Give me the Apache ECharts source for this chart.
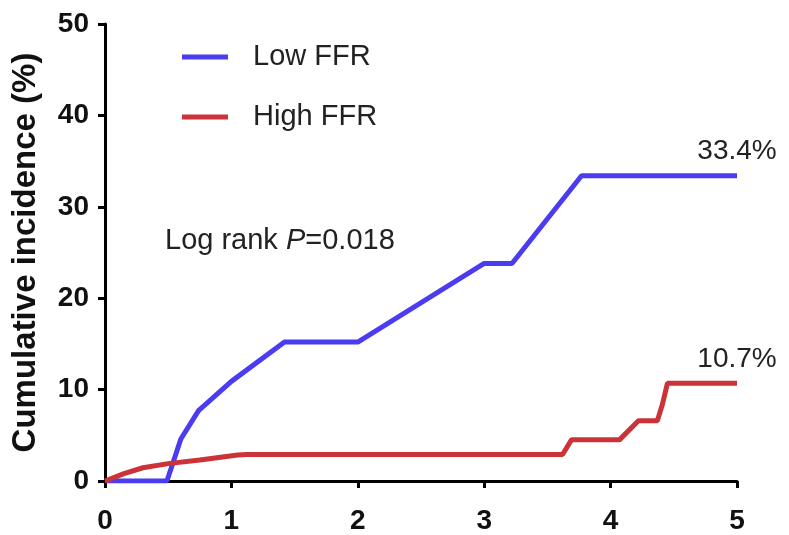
<!DOCTYPE html>
<html>
<head>
	<meta charset="UTF-8">
	<title>Cumulative incidence</title>
	<script src="https://cdn.jsdelivr.net/npm/echarts@6/dist/echarts.min.js"></script>
	<style>
		html, body { margin: 0; padding: 0; background: #fff; }
		#chart { width: 789px; height: 535px; }
	</style>
</head>
<body>
<div id="chart"></div>
<script type="text/javascript">
	// 数据 (years, %)
	var lowTime = [0, 0.49, 0.6, 0.74, 1.0, 1.42, 2.0, 3.0, 3.22, 3.77, 5];
	var lowInc = [0, 0, 4.6, 7.7, 10.9, 15.2, 15.2, 23.8, 23.8, 33.4, 33.4];
	var highTime = [0, 0.15, 0.3, 0.5, 0.75, 1.05, 1.12, 3.62, 3.69, 4.07, 4.22, 4.37, 4.41, 4.45, 5];
	var highInc = [0, 0.8, 1.45, 1.9, 2.3, 2.85, 2.9, 2.9, 4.5, 4.5, 6.6, 6.6, 8.4, 10.7, 10.7];
	var xTicks = [0, 1, 2, 3, 4, 5];
	var yTicks = [0, 10, 20, 30, 40, 50];
	var seriesNames = ['Low FFR', 'High FFR'];
	var endLabels = ['33.4%', '10.7%'];

	var font = "'Liberation Sans', Arial, sans-serif";

	function pairs(xs, ys, label) {
		var out = [];
		for (var i = 0; i < xs.length; i++) {
			out.push([xs[i], ys[i]]);
		}
		// 最后一个点显示百分比
		out[out.length - 1] = {
			value: out[out.length - 1],
			label: {
				show: true, position: 'top', distance: 10,
				formatter: label,
				color: '#222', fontSize: 28, fontFamily: font
			}
		};
		return out;
	}

	var myChart = echarts.init(document.getElementById('chart'));

	var option = {
		animation: false,
		grid: { left: 105, right: 52, top: 24, bottom: 54 },
		legend: {
			orient: 'vertical',
			left: 182, top: 41,
			padding: 0,
			itemWidth: 46, itemHeight: 5,
			itemGap: 28,
			icon: 'rect',
			textStyle: { fontSize: 29, fontFamily: font, color: '#222', padding: [0, 0, 0, 20], lineHeight: 32 },
			data: seriesNames
		},
		xAxis: {
			type: 'value',
			min: xTicks[0], max: xTicks[xTicks.length - 1], interval: 1,
			axisLine: { lineStyle: { color: '#000', width: 3 } },
			axisTick: { show: true, length: 7, lineStyle: { color: '#000', width: 3 } },
			axisLabel: { color: '#111', fontSize: 28, fontWeight: 'bold', fontFamily: font, margin: 26 },
			splitLine: { show: false }
		},
		yAxis: {
			type: 'value',
			min: yTicks[0], max: yTicks[yTicks.length - 1], interval: 10,
			name: 'Cumulative incidence (%)',
			nameLocation: 'middle',
			nameGap: 63,
			nameTextStyle: { color: '#111', fontSize: 33, fontWeight: 'bold', fontFamily: font },
			axisLine: { show: true, lineStyle: { color: '#000', width: 3 } },
			axisTick: { show: true, length: 7, lineStyle: { color: '#000', width: 3 } },
			axisLabel: { color: '#111', fontSize: 28, fontWeight: 'bold', fontFamily: font, margin: 16 },
			splitLine: { show: false }
		},
		graphic: [{
			type: 'text',
			style: {
				x: 165, y: 241,
				verticalAlign: 'middle',
				text: '{a|Log rank }{i|P}{a|=0.018}',
				rich: {
					a: { fontSize: 29, fontFamily: font, fill: '#222' },
					i: { fontSize: 29, fontFamily: font, fill: '#222', fontStyle: 'italic' }
				}
			}
		}],
		series: [{
			name: seriesNames[0],
			type: 'line',
			symbol: 'circle',
			symbolSize: 0,
			showSymbol: true,
			showAllSymbol: true,
			color: '#4b3cf2',
			lineStyle: { width: 5, color: '#4b3cf2' },
			data: pairs(lowTime, lowInc, endLabels[0])
		}, {
			name: seriesNames[1],
			type: 'line',
			symbol: 'circle',
			symbolSize: 0,
			showSymbol: true,
			showAllSymbol: true,
			color: '#cc3338',
			lineStyle: { width: 5, color: '#cc3338' },
			data: pairs(highTime, highInc, endLabels[1])
		}]
	};
	myChart.setOption(option);
</script>
</body>
</html>
